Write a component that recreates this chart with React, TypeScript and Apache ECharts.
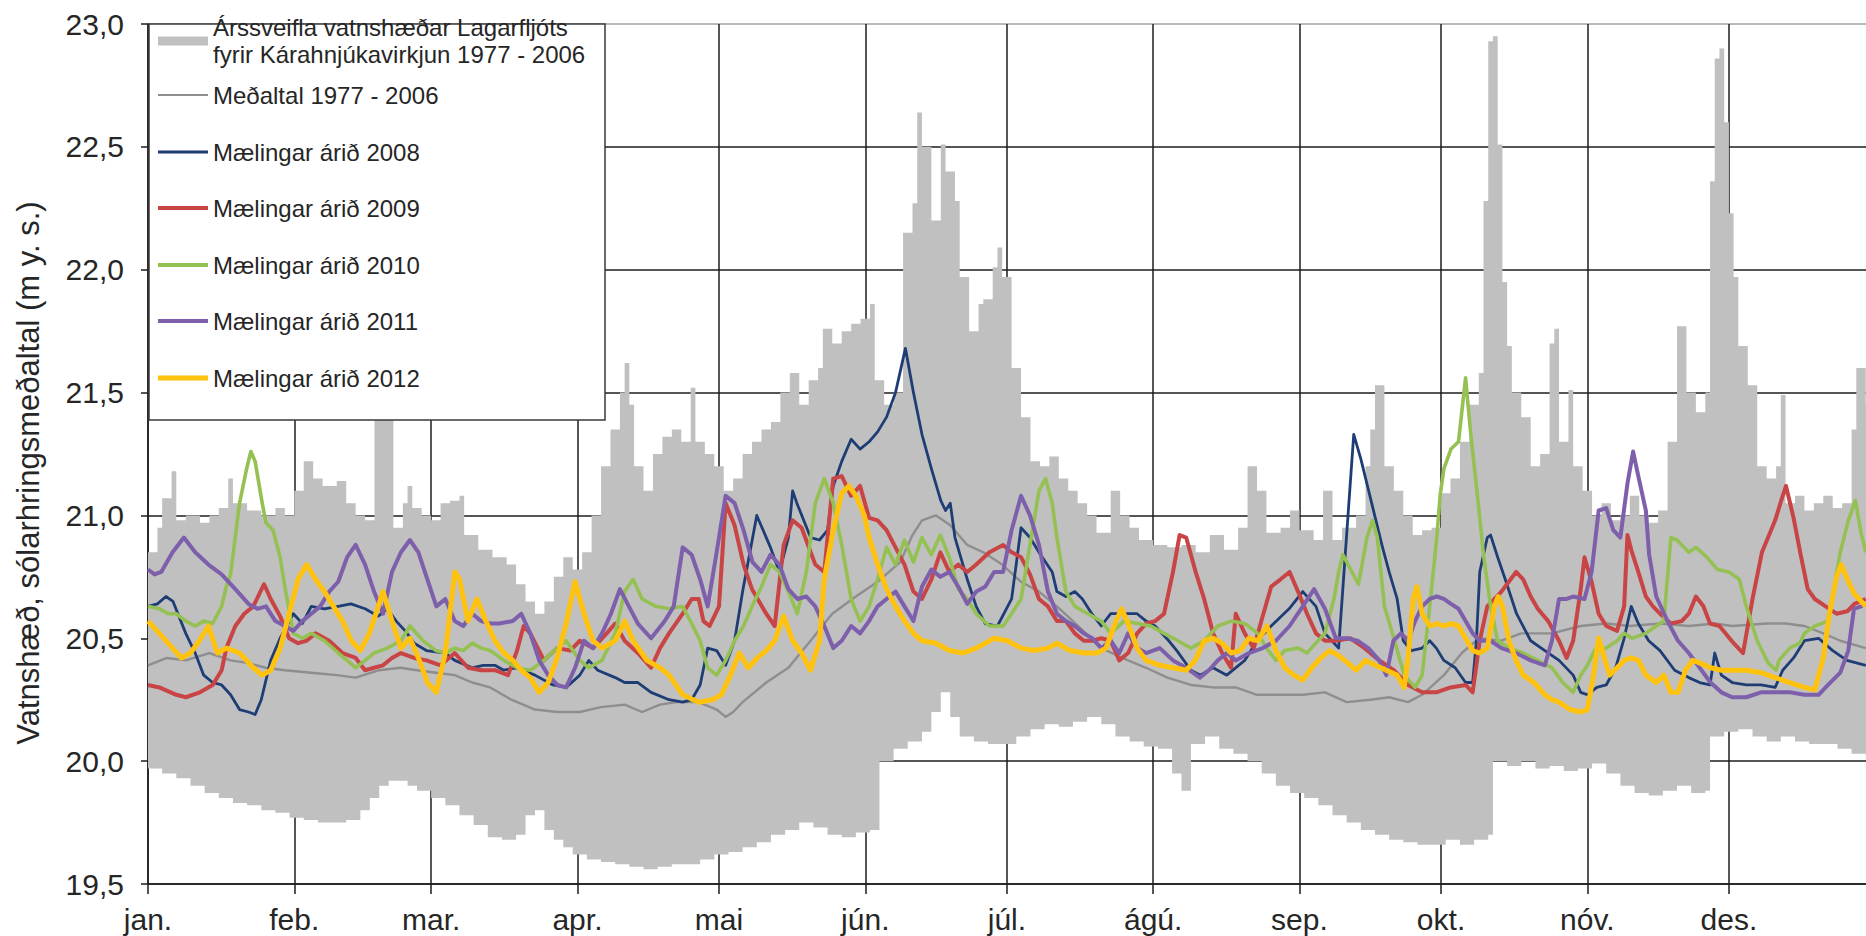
import React, { useEffect, useRef } from 'react';
import * as echarts from 'echarts';

// ---------- axis data ----------
const monthLabels = ['jan.', 'feb.', 'mar.', 'apr.', 'mai', 'jún.', 'júl.', 'ágú.', 'sep.', 'okt.', 'nóv.', 'des.'];
const monthStartDays = [0, 31, 60, 91, 121, 152, 182, 213, 244, 274, 305, 335];
const X_MAX = 364.05;
const Y_MIN = 19.5;
const Y_MAX = 23.0;
const Y_STEP = 0.5;

// ---------- names ----------
const bandName = 'Árssveifla vatnshæðar Lagarfljóts\nfyrir Kárahnjúkavirkjun 1977 - 2006';
const meanName = 'Meðaltal 1977 - 2006';
const name2008 = 'Mælingar árið 2008';
const name2009 = 'Mælingar árið 2009';
const name2010 = 'Mælingar árið 2010';
const name2011 = 'Mælingar árið 2011';
const name2012 = 'Mælingar árið 2012';

// ---------- band (daily max / min 1977-2006), [day, value] ----------
const bandUpper: number[][] = [
  [0,20.85],[2,20.95],[3,21.07],[5,21.18],[6,20.98],[8,21.0],[11,20.97],[13,21.0],[15,21.03],[17,21.15],[18,21.05],[21,21.02],[24,21.0],[27,21.03],[29,21.0],
  [31,21.1],[33,21.22],[35,21.15],[37,21.12],[40,21.14],[42,21.05],[44,21.0],[46,20.98],[48,21.45],[49,21.6],[51,21.5],[52,20.95],[54,21.05],[55,21.12],[56,21.03],[58,21.0],
  [60,20.98],[62,21.05],[64,21.06],[66,21.08],[67,20.92],[70,20.86],[73,20.83],[76,20.8],[78,20.72],[80,20.65],[82,20.6],[84,20.65],[86,20.75],[88,20.83],[90,20.78],
  [92,20.85],[94,21.0],[96,21.2],[98,21.35],[100,21.5],[101,21.62],[102,21.45],[103,21.2],[105,21.1],[107,21.25],[109,21.32],[111,21.35],[113,21.3],[115,21.52],[116,21.3],[118,21.25],[120,21.2],
  [122,21.1],[124,21.15],[126,21.25],[128,21.3],[130,21.35],[132,21.38],[134,21.5],[136,21.58],[138,21.45],[140,21.55],[142,21.6],[143,21.76],[145,21.7],[147,21.75],[149,21.78],[151,21.8],
  [153,21.86],[154,21.55],[156,21.45],[158,21.5],[160,22.15],[162,22.27],[163,22.64],[164,22.5],[166,22.2],[168,22.51],[169,22.4],[171,22.28],[172,21.97],[174,21.75],[176,21.86],[177,21.88],[179,22.01],[180,22.09],[181,21.97],
  [183,21.6],[185,21.4],[187,21.22],[189,21.2],[191,21.24],[193,21.15],[195,21.1],[197,21.05],[199,21.0],[201,20.93],[204,21.1],[206,21.0],[208,20.95],[210,20.9],
  [213,20.88],[216,20.87],[219,20.88],[222,20.85],[225,20.92],[228,20.86],[231,20.95],[233,21.2],[235,21.1],[237,20.93],[240,20.95],[242,21.02],
  [244,20.94],[247,20.9],[249,21.1],[251,20.9],[253,20.95],[256,21.0],[258,21.2],[259,21.35],[260,21.53],[262,21.2],[264,21.1],[266,21.0],[268,20.92],[270,20.94],[272,20.95],
  [274,21.09],[276,21.15],[278,21.3],[280,21.45],[282,21.58],[283,22.28],[284,22.93],[285,22.95],[286,22.51],[287,21.95],[288,21.69],[289,21.5],[291,21.4],[293,21.2],[295,21.25],[297,21.7],[298,21.76],[299,21.3],[301,21.51],[302,21.2],
  [304,21.1],[306,21.0],[308,21.05],[310,20.98],[312,21.0],[314,21.08],[316,21.0],[318,20.97],[320,21.02],[322,21.3],[324,21.77],[326,21.5],[328,21.42],[330,21.5],[331,22.36],[332,22.86],[333,22.9],
  [334,22.6],[335,22.23],[336,21.97],[337,21.69],[339,21.53],[341,21.2],[343,21.15],[345,21.2],[346,21.49],[347,21.05],[349,21.08],[351,21.02],[353,21.05],[355,21.08],[357,21.03],[359,21.05],[361,21.35],[362,21.6],[364,21.45]
];
const bandLower: number[][] = [
  [0,19.97],[3,19.95],[6,19.93],[9,19.9],[12,19.87],[15,19.85],[18,19.83],[21,19.82],[24,19.8],[27,19.79],[30,19.77],[33,19.76],[36,19.75],[39,19.75],[42,19.76],[45,19.8],[47,19.85],[49,19.9],[51,19.92],[53,19.92],[55,19.9],[57,19.88],
  [60,19.85],[63,19.82],[66,19.78],[69,19.74],[72,19.69],[75,19.68],[78,19.7],[80,19.78],[82,19.8],[84,19.72],[86,19.68],[88,19.65],[90,19.62],[93,19.6],[96,19.59],[99,19.58],[102,19.57],[105,19.56],[108,19.57],[111,19.58],[114,19.58],[117,19.6],
  [120,19.62],[123,19.63],[126,19.65],[129,19.67],[132,19.7],[135,19.72],[138,19.75],[141,19.73],[144,19.7],[147,19.69],[150,19.71],[153,19.72],[155,20.0],[158,20.05],[161,20.08],[164,20.12],[166,20.2],[168,20.28],[170,20.18],[172,20.1],[175,20.08],[178,20.07],
  [181,20.07],[184,20.1],[187,20.13],[190,20.15],[193,20.14],[196,20.16],[199,20.18],[202,20.15],[205,20.1],[208,20.08],[211,20.06],[214,20.05],[217,19.95],[219,19.88],[221,20.07],[224,20.1],[227,20.05],[230,20.03],[233,20.0],[236,19.95],[239,19.9],[242,19.87],
  [245,19.85],[248,19.82],[251,19.78],[254,19.75],[257,19.72],[260,19.7],[263,19.68],[266,19.67],[269,19.66],[272,19.66],[275,19.68],[278,19.66],[281,19.68],[284,19.7],[285,20.0],[288,19.98],[291,20.0],[294,19.97],[297,19.98],[300,19.96],[303,19.97],
  [306,19.99],[309,19.95],[312,19.9],[315,19.87],[318,19.86],[321,19.88],[324,19.9],[327,19.87],[330,19.88],[331,20.1],[334,20.12],[337,20.13],[340,20.1],[343,20.08],[346,20.1],[349,20.08],[352,20.07],[355,20.07],[358,20.05],[361,20.03],[364,20.02]
];

// ---------- lines, [day, value] ----------
const meanValues: number[][] = [
  [0,20.39],[4,20.42],[8,20.41],[13,20.44],[17.5,20.41],[21,20.4],[25,20.38],[29,20.37],[34.6,20.36],[40,20.35],[44,20.34],[49,20.37],[53.5,20.38],[57,20.37],[61,20.36],[65,20.35],[68.7,20.32],[72.5,20.3],[77,20.25],[82,20.21],[86.7,20.2],[91.5,20.2],
  [96,20.22],[101,20.23],[104.7,20.2],[108.5,20.23],[112,20.24],[116.7,20.24],[120.5,20.21],[122.4,20.18],[124,20.2],[126,20.24],[131,20.32],[135.7,20.38],[140.4,20.49],[145,20.6],[150,20.67],[154.6,20.73],[159.4,20.81],[162,20.92],[164,20.98],[167,21.0],[170,20.96],
  [173.6,20.88],[177,20.85],[181,20.8],[185,20.73],[188.8,20.69],[192.6,20.63],[196,20.57],[202,20.46],[207.7,20.41],[211.5,20.38],[216,20.34],[221,20.31],[225.7,20.3],[230.5,20.3],[235,20.27],[240,20.27],[244.7,20.27],[249.4,20.28],[254,20.24],[259,20.25],
  [263,20.26],[267,20.24],[270,20.27],[274.6,20.35],[278.4,20.44],[282,20.5],[286.8,20.49],[291,20.52],[297.5,20.52],[303.6,20.55],[309,20.56],[314,20.55],[320.4,20.56],[326.5,20.55],[332,20.56],[335.7,20.55],[343,20.56],[347,20.56],[351,20.55],[355,20.52],[358.6,20.49],[364,20.46]
];
const values2008: number[][] = [
  [0,20.63],[2,20.64],[3.8,20.67],[5.3,20.65],[8,20.52],[10,20.44],[11.8,20.35],[13.7,20.32],[15.6,20.31],[17.5,20.27],[19.4,20.21],[21.3,20.2],[22.7,20.19],[24,20.25],[26,20.41],[28,20.5],[30.8,20.6],[32.7,20.56],[34.6,20.63],[37.4,20.62],[40.3,20.63],[43,20.64],
  [46,20.62],[48.8,20.59],[50.7,20.62],[52.6,20.57],[54.5,20.53],[56.4,20.48],[59,20.45],[63,20.44],[65,20.41],[68.7,20.38],[71,20.39],[73.5,20.39],[75.4,20.37],[78,20.38],[82,20.35],[85.8,20.31],[88.6,20.3],[91.5,20.35],[93.4,20.41],[95.3,20.37],[99,20.34],
  [101,20.32],[103.8,20.32],[106.6,20.28],[110.4,20.25],[113.3,20.24],[115.2,20.25],[117,20.31],[118.6,20.46],[120.5,20.45],[122.4,20.39],[124.3,20.49],[126,20.69],[129,21.0],[131.9,20.87],[133.8,20.77],[135.7,20.91],[136.6,21.1],[137.5,21.05],[140.4,20.91],
  [142.3,20.9],[144,20.94],[145.2,21.12],[147,21.22],[149,21.31],[150.9,21.27],[152.8,21.3],[154.6,21.34],[156.5,21.4],[158.4,21.5],[160.5,21.68],[162.2,21.5],[164,21.33],[166,21.19],[168,21.06],[169,21.02],[170,21.05],[171,20.91],[173.6,20.74],[175.5,20.63],
  [177.4,20.56],[180,20.55],[183,20.66],[185,20.95],[186.9,20.91],[188.8,20.85],[191.6,20.77],[192.6,20.69],[194.5,20.67],[196.4,20.69],[198,20.66],[200,20.6],[202,20.55],[204,20.6],[206.8,20.6],[209.6,20.6],[211.5,20.57],[213.4,20.55],[216.3,20.49],[218,20.45],
  [221,20.37],[223,20.35],[225.7,20.38],[228.6,20.35],[232.4,20.41],[235,20.49],[238,20.55],[241.8,20.62],[244.7,20.69],[247.5,20.63],[249.4,20.52],[252.3,20.46],[255.5,21.33],[257,21.23],[259.3,21.05],[261.6,20.87],[263,20.77],[264.7,20.66],[266,20.49],
  [267.7,20.45],[270,20.46],[271.6,20.49],[273,20.46],[274.6,20.41],[277,20.38],[279.2,20.32],[280.7,20.32],[281.5,20.49],[282.2,20.77],[283.8,20.91],[284.5,20.92],[286,20.83],[287.6,20.74],[290,20.6],[293,20.49],[296,20.45],[299,20.41],[302,20.35],[303.6,20.28],
  [305,20.27],[307,20.3],[309,20.31],[311,20.38],[312.8,20.5],[314.3,20.63],[315.8,20.56],[318,20.49],[320.4,20.45],[323.5,20.37],[326.5,20.34],[328.8,20.32],[331,20.31],[332,20.44],[333.4,20.35],[335.7,20.32],[338.7,20.31],[341.8,20.31],[344.8,20.3],
  [346.4,20.37],[348.7,20.42],[351,20.49],[354,20.5],[357,20.45],[360,20.41],[364,20.39]
];
const values2009: number[][] = [
  [0,20.31],[2.4,20.3],[6,20.27],[8,20.26],[11,20.28],[13.7,20.31],[15.6,20.37],[16.6,20.46],[18.5,20.55],[20.4,20.6],[22.3,20.63],[24.6,20.72],[26,20.66],[28,20.59],[29.9,20.5],[31.8,20.48],[33.6,20.49],[35.5,20.52],[38.4,20.49],[41.2,20.44],[44,20.42],
  [46,20.37],[47.9,20.38],[49.8,20.39],[51.7,20.42],[53.6,20.44],[56.4,20.42],[59,20.41],[62,20.39],[65,20.44],[67.8,20.38],[70.6,20.37],[73.5,20.37],[76.3,20.35],[78.2,20.45],[79.6,20.55],[81,20.52],[83.9,20.41],[86.7,20.46],[89.5,20.45],[91.5,20.49],
  [94.3,20.46],[97.2,20.52],[99,20.56],[101,20.49],[103.8,20.44],[106.6,20.38],[108.5,20.46],[110.4,20.52],[113.3,20.6],[115.2,20.66],[116.7,20.66],[117.7,20.57],[119,20.55],[121,20.63],[122.4,21.05],[124.3,20.96],[126.2,20.8],[128,20.7],[131,20.6],[132.8,20.55],
  [134.7,20.88],[136.6,20.98],[138.5,20.95],[141.4,20.8],[143.3,20.77],[145.2,21.15],[147,21.16],[149,21.08],[150.9,21.12],[152.8,20.99],[154.6,20.98],[156.5,20.94],[158.4,20.87],[160.3,20.8],[162.2,20.69],[164,20.66],[166,20.74],[167.9,20.85],[169.8,20.77],
  [171.7,20.8],[173.6,20.77],[175.5,20.8],[178.3,20.85],[181.2,20.88],[183,20.85],[185,20.83],[186.9,20.76],[188.8,20.66],[190.7,20.63],[192.6,20.57],[194.5,20.57],[196.4,20.52],[198.3,20.49],[200.1,20.49],[202,20.5],[204,20.49],[205.8,20.41],[207.7,20.44],
  [209.6,20.52],[211.5,20.56],[213.4,20.57],[215.3,20.6],[217.2,20.77],[218.6,20.92],[220,20.91],[222,20.77],[223.8,20.66],[225.7,20.52],[227.6,20.44],[229.5,20.38],[230.5,20.6],[232.4,20.52],[234.3,20.46],[236.2,20.59],[238,20.71],[240,20.74],[241.9,20.77],
  [243.7,20.69],[245.6,20.6],[247.5,20.52],[249.4,20.49],[251.7,20.49],[254.8,20.5],[257.8,20.46],[260.9,20.41],[264,20.37],[267,20.31],[270,20.28],[273,20.28],[276,20.3],[279.2,20.31],[280.7,20.28],[282.2,20.49],[283.8,20.63],[286.8,20.69],[289.9,20.77],
  [291.4,20.74],[293,20.67],[294.5,20.62],[296.7,20.57],[299,20.49],[300.6,20.42],[302,20.49],[303.6,20.7],[304.4,20.83],[305.9,20.73],[307.4,20.6],[309,20.55],[311.3,20.53],[312.8,20.63],[313.5,20.92],[314.3,20.86],[315.8,20.77],[317.4,20.67],[318.9,20.63],
  [320.4,20.6],[322.7,20.56],[325,20.57],[326.5,20.6],[328,20.67],[329.6,20.63],[331,20.56],[333,20.55],[336,20.48],[338,20.44],[340,20.66],[342,20.85],[343.3,20.91],[344.8,20.98],[346.4,21.08],[347.1,21.12],[348.7,20.99],[350.2,20.84],[351.7,20.7],
  [353.2,20.66],[355.5,20.63],[357.8,20.6],[360.1,20.61],[361.6,20.64],[364,20.66]
];
const values2010: number[][] = [
  [0,20.63],[2.4,20.62],[4.3,20.6],[6,20.6],[8,20.57],[10,20.55],[11.8,20.57],[13.7,20.56],[15.6,20.63],[16.6,20.71],[17.5,20.76],[19.4,21.05],[20.9,21.19],[21.8,21.26],[22.7,21.22],[24.2,21.05],[25,20.97],[26.5,20.94],[28,20.83],[29,20.71],[30.8,20.52],
  [32.7,20.5],[34.6,20.52],[37.4,20.49],[40.3,20.44],[42.2,20.41],[44,20.38],[46,20.41],[47.9,20.44],[50.7,20.46],[53.6,20.49],[55.5,20.55],[58.3,20.49],[61,20.45],[63,20.44],[65,20.46],[66.8,20.45],[68.7,20.48],[70.6,20.46],[72.5,20.45],[75.4,20.41],
  [78.2,20.38],[81,20.37],[83.9,20.41],[86.7,20.46],[88.6,20.49],[91.5,20.41],[93.4,20.38],[96.2,20.41],[99,20.52],[101,20.69],[102.8,20.74],[104.7,20.66],[107.6,20.63],[110.4,20.62],[113.3,20.63],[115.2,20.56],[117,20.49],[118.6,20.38],[120.5,20.35],
  [122.4,20.41],[124.3,20.49],[126.2,20.55],[128,20.63],[130,20.71],[131.9,20.8],[133.8,20.77],[135.7,20.69],[137.6,20.6],[139.5,20.77],[141.4,21.05],[143.3,21.15],[145.2,21.05],[147,20.88],[149,20.66],[150.9,20.57],[152.8,20.63],[154.6,20.74],[156.5,20.87],
  [158.4,20.8],[160.3,20.9],[162.2,20.81],[164,20.91],[166,20.84],[167.9,20.92],[169.8,20.83],[171.7,20.7],[173.6,20.66],[175.5,20.6],[178.3,20.55],[181.2,20.55],[183,20.6],[185,20.66],[186.9,20.88],[188.8,21.1],[190.2,21.15],[191.6,21.05],[192.6,20.91],
  [194.5,20.69],[196.4,20.63],[199.2,20.6],[202,20.57],[204,20.52],[206.8,20.57],[209.6,20.56],[212.5,20.55],[215.3,20.52],[218.2,20.49],[221,20.46],[223.8,20.49],[226.7,20.55],[229.5,20.57],[232.4,20.56],[235.2,20.52],[237,20.46],[239,20.41],[240.9,20.45],
  [243.7,20.46],[245.6,20.44],[247,20.47],[249.4,20.52],[251.3,20.66],[252.3,20.77],[253.2,20.84],[255.1,20.77],[256.5,20.72],[258.3,20.91],[259.5,20.98],[260.5,20.91],[262,20.63],[264,20.5],[266.2,20.35],[268.5,20.3],[270,20.35],[271.6,20.63],[273.1,20.91],
  [273.8,21.08],[274.6,21.19],[276.1,21.27],[277.7,21.3],[279.2,21.56],[280.3,21.33],[281.5,21.12],[283,20.84],[284.5,20.63],[286,20.49],[288.4,20.46],[291.4,20.44],[294.5,20.41],[297.5,20.38],[299.8,20.32],[302,20.28],[303.6,20.35],[305,20.39],[306.5,20.45],
  [309,20.46],[311.3,20.49],[312.8,20.52],[314.5,20.5],[317.4,20.52],[319.6,20.55],[321.2,20.57],[322.7,20.91],[324,20.9],[325,20.88],[326.5,20.85],[328,20.87],[330.3,20.83],[332.6,20.78],[335,20.77],[337.2,20.74],[338.7,20.63],[340,20.55],[341,20.49],
  [343.3,20.4],[345,20.37],[345.6,20.41],[347.9,20.46],[350,20.48],[351,20.52],[353.2,20.55],[356,20.57],[358.6,20.85],[360.3,20.98],[361.8,21.06],[363,20.93],[364,20.85]
];
const values2011: number[][] = [
  [0,20.78],[1.4,20.76],[2.8,20.77],[5.2,20.85],[7.6,20.91],[10,20.85],[12.8,20.8],[15.6,20.76],[18.5,20.7],[21.3,20.64],[23.2,20.62],[25,20.63],[27,20.57],[29,20.55],[30.8,20.53],[32.7,20.57],[34.6,20.6],[36.5,20.63],[38.4,20.69],[40.3,20.73],[42.2,20.83],
  [44,20.88],[46,20.8],[47.9,20.69],[49.8,20.6],[51.7,20.77],[53.6,20.85],[55.5,20.9],[57.3,20.85],[59.2,20.74],[61.1,20.63],[63,20.66],[65,20.57],[66.8,20.55],[68.7,20.6],[70.6,20.57],[72.5,20.56],[74.4,20.56],[77.3,20.57],[79.1,20.6],[81,20.52],
  [82.9,20.41],[84.8,20.35],[86.7,20.31],[88.6,20.3],[90.5,20.38],[92.4,20.49],[94.3,20.46],[96.2,20.52],[98.1,20.6],[100,20.7],[101.9,20.63],[103.8,20.56],[106.6,20.5],[109.5,20.57],[111.4,20.63],[113.3,20.87],[115.2,20.84],[117,20.74],[118.6,20.63],
  [120.5,20.85],[122.4,21.08],[124.3,21.05],[126.2,20.94],[128.1,20.81],[130,20.77],[131.9,20.84],[133.8,20.8],[135.7,20.7],[137.6,20.66],[139.5,20.67],[141.4,20.63],[143.3,20.55],[145.2,20.46],[147,20.49],[149,20.55],[150.9,20.52],[152.8,20.57],
  [154.6,20.63],[156.5,20.66],[158.4,20.69],[160.3,20.63],[162.2,20.57],[164,20.71],[166,20.78],[167.9,20.75],[169.8,20.77],[171.7,20.71],[173.6,20.64],[175.5,20.69],[177.4,20.71],[179.3,20.77],[181.2,20.77],[183,20.94],[185,21.08],[186.9,21.0],
  [188.8,20.88],[190.7,20.69],[192.6,20.6],[194.5,20.57],[196.4,20.55],[198.3,20.52],[200.1,20.5],[202,20.46],[204,20.49],[205.8,20.44],[207.7,20.52],[209.6,20.46],[211.5,20.44],[214.4,20.46],[217.2,20.41],[220,20.38],[222.9,20.34],[224.8,20.37],
  [226.7,20.41],[228.6,20.44],[230.5,20.41],[233.3,20.44],[236.2,20.46],[239,20.49],[241.9,20.55],[244.7,20.63],[247.1,20.7],[249.4,20.62],[251.7,20.5],[254,20.5],[256.3,20.49],[258.6,20.46],[260.9,20.41],[262.4,20.35],[263.9,20.49],[265.5,20.52],
  [267,20.49],[268.5,20.57],[270,20.63],[271.6,20.66],[273.1,20.67],[274.6,20.66],[276.1,20.64],[277.7,20.62],[279.2,20.57],[280.7,20.52],[282.2,20.49],[284.5,20.49],[286.8,20.46],[289.9,20.44],[293,20.41],[296,20.39],[297.5,20.49],[299,20.66],
  [300.6,20.66],[302,20.67],[304.4,20.66],[305.9,20.77],[307.4,21.02],[309,21.03],[310.5,20.94],[312,20.91],[313.5,21.13],[314.7,21.26],[315.8,21.16],[317.4,21.02],[318.1,20.84],[319.6,20.67],[322,20.57],[324.2,20.49],[326.5,20.44],[328.8,20.38],
  [331.1,20.32],[333.4,20.28],[335.7,20.26],[338.7,20.26],[341.8,20.28],[344.8,20.28],[347.9,20.28],[351,20.27],[354,20.27],[356,20.31],[358.6,20.36],[360.3,20.45],[361.5,20.62],[363,20.63],[364,20.64]
];
const values2012: number[][] = [
  [0,20.57],[2.4,20.52],[5.2,20.46],[7.1,20.42],[9,20.44],[10.9,20.49],[12.8,20.55],[14.7,20.44],[16.6,20.46],[19.4,20.44],[22.3,20.38],[24.2,20.35],[26,20.37],[28,20.46],[29.9,20.6],[31.8,20.74],[33.6,20.8],[35.5,20.74],[37.4,20.69],[39.3,20.63],
  [41.2,20.57],[43.1,20.49],[45,20.45],[46.9,20.52],[48.8,20.63],[49.8,20.69],[51.7,20.57],[53.6,20.46],[55.5,20.5],[57.3,20.42],[59.2,20.32],[61.1,20.28],[63,20.44],[65,20.77],[66,20.74],[67.8,20.57],[69.7,20.66],[71.6,20.57],[73.5,20.49],
  [75.4,20.44],[77.3,20.41],[79.1,20.37],[81,20.34],[82.9,20.28],[84.8,20.32],[86.7,20.42],[88.6,20.56],[90.5,20.73],[92.4,20.6],[94.3,20.49],[96.2,20.46],[99,20.49],[101,20.57],[102.8,20.49],[105.7,20.41],[108.5,20.38],[110.4,20.35],[113.3,20.27],
  [116.7,20.24],[119.6,20.25],[121.5,20.27],[123.4,20.35],[125.3,20.44],[127.2,20.38],[129.1,20.42],[131,20.45],[132.8,20.49],[134.7,20.59],[136.6,20.49],[138.5,20.44],[140.4,20.37],[142.3,20.49],[143.3,20.74],[145.2,20.94],[147,21.09],[148.5,21.12],
  [150,21.08],[151.8,21.0],[152.8,20.91],[154.6,20.8],[156.5,20.7],[158.4,20.63],[160.3,20.57],[162.2,20.52],[164,20.49],[167,20.48],[169.8,20.45],[172.7,20.44],[175.5,20.46],[179.3,20.5],[182.1,20.49],[185,20.46],[187.8,20.45],[190.7,20.46],
  [192.6,20.48],[195.4,20.45],[198.3,20.44],[201.1,20.44],[203,20.46],[204.9,20.56],[206.3,20.62],[207.7,20.56],[209.6,20.46],[211.5,20.41],[214.4,20.39],[217.2,20.38],[220,20.37],[221.9,20.41],[223.8,20.49],[225.7,20.5],[227.6,20.48],[229.5,20.44],
  [231.4,20.45],[233.3,20.5],[235.2,20.49],[237.1,20.55],[239,20.45],[240.9,20.38],[242.8,20.35],[244.7,20.33],[246.6,20.38],[248.5,20.42],[250.4,20.45],[252.3,20.43],[254.2,20.4],[256,20.37],[258,20.41],[260.1,20.39],[262.4,20.37],[264.7,20.35],
  [266.2,20.3],[267,20.42],[268.1,20.66],[268.9,20.71],[270,20.6],[271.6,20.55],[273.1,20.56],[274.6,20.55],[276.1,20.56],[277.7,20.55],[279.2,20.5],[280.7,20.45],[282.2,20.44],[283.8,20.46],[285.3,20.63],[286.1,20.67],[287,20.63],[288.4,20.49],
  [289.9,20.41],[291.4,20.35],[293.7,20.32],[296,20.27],[297.5,20.25],[299,20.24],[301.3,20.21],[303.6,20.2],[305,20.21],[306.3,20.35],[307.4,20.5],[308.6,20.42],[309.7,20.35],[311.3,20.38],[312.8,20.41],[314.3,20.42],[315.8,20.41],[317.4,20.35],
  [319.6,20.32],[321.2,20.35],[322.7,20.28],[324.2,20.28],[325.8,20.37],[327.3,20.41],[328.8,20.4],[331.1,20.38],[333.4,20.37],[335.7,20.37],[338.7,20.37],[341.8,20.36],[344.8,20.34],[347.9,20.32],[351,20.3],[353.2,20.29],[355,20.42],[356.3,20.6],
  [357.8,20.75],[358.8,20.8],[360.1,20.74],[361.6,20.68],[364,20.63]
];

// ---------- styles ----------
const FONT = '"Liberation Sans", Arial, Helvetica, sans-serif';
const TEXT = '#262626';
const GRID_LINE = '#1c1c1c';
const BAND_COLOR = '#c0c0c0';

const lineDefs = [
  { name: meanName, data: meanValues, color: '#8e8e8e', width: 2.4 },
  { name: name2008, data: values2008, color: '#1f3d75', width: 2.8 },
  { name: name2009, data: values2009, color: '#c94444', width: 4 },
  { name: name2010, data: values2010, color: '#94c152', width: 3.6 },
  { name: name2011, data: values2011, color: '#7d5fab', width: 4 },
  { name: name2012, data: values2012, color: '#ffc20e', width: 5 },
];

// legend rows: centre y of each legend row
const legendRows = [
  { name: bandName, cy: 41, band: true },
  { name: meanName, cy: 95 },
  { name: name2008, cy: 152 },
  { name: name2009, cy: 208 },
  { name: name2010, cy: 265 },
  { name: name2011, cy: 321 },
  { name: name2012, cy: 378 },
];

export default function App() {
  const ref = useRef<HTMLDivElement>(null);

  useEffect(() => {
    if (!ref.current) return;
    const chart = echarts.init(ref.current, undefined, { renderer: 'svg' });

    const ySplitColors: string[] = [];
    for (let v = Y_MIN; v <= Y_MAX + 1e-9; v += Y_STEP) ySplitColors.push(v >= Y_MAX - 1e-9 ? '#a0a0a0' : GRID_LINE);

    const legends = legendRows.map((row) => {
      if (row.band) {
        return {
          data: [{ name: row.name, icon: 'rect', itemStyle: { color: BAND_COLOR } }],
          left: 158, top: row.cy - 40.5, orient: 'vertical', padding: 0,
          itemWidth: 50, itemHeight: 9, selectedMode: false, z: 12,
          textStyle: { fontFamily: FONT, fontSize: 24, color: TEXT, lineHeight: 27, padding: [27, 0, 0, 0] },
        };
      }
      const def = lineDefs.find((l) => l.name === row.name)!;
      const h = Math.max(2, Math.round(def.width));
      return {
        data: [{ name: row.name, icon: 'rect', itemStyle: { color: def.color } }],
        left: 158, top: row.cy - 13.5, orient: 'vertical', padding: 0,
        itemWidth: 50, itemHeight: h, selectedMode: false, z: 12,
        textStyle: { fontFamily: FONT, fontSize: 24, color: TEXT, lineHeight: 27 },
      };
    });

    const option: any = {
      animation: false,
      backgroundColor: '#ffffff',
      grid: { left: 148, right: 0, top: 24, bottom: 52, containLabel: false, outerBoundsMode: 'none' },
      xAxis: {
        type: 'value', min: 0, max: X_MAX,
        axisLine: { show: true, onZero: false, lineStyle: { color: GRID_LINE, width: 1.5 } },
        axisTick: { show: true, customValues: monthStartDays, length: 10, lineStyle: { color: GRID_LINE, width: 1.5 } },
        axisLabel: {
          customValues: monthStartDays,
          formatter: (v: number) => monthLabels[monthStartDays.indexOf(Math.round(v))] ?? '',
          fontFamily: FONT, fontSize: 30, color: TEXT, margin: 20,
        },
        splitLine: { show: true, lineStyle: { color: GRID_LINE, width: 1.5 } },
      },
      yAxis: {
        type: 'value', min: Y_MIN, max: Y_MAX, interval: Y_STEP,
        name: 'Vatnshæð, sólarhringsmeðaltal (m y. s.)',
        nameLocation: 'middle', nameRotate: 90, nameGap: 104,
        nameTextStyle: { fontFamily: FONT, fontSize: 31, color: TEXT, padding: [0, 38, 0, 0] },
        axisLine: { show: true, lineStyle: { color: GRID_LINE, width: 1.5 } },
        axisTick: { show: true, length: 7, lineStyle: { color: GRID_LINE, width: 1.5 } },
        axisLabel: {
          formatter: (v: number) => v.toFixed(1).replace('.', ','),
          fontFamily: FONT, fontSize: 30, color: TEXT, margin: 24,
        },
        splitLine: { show: true, lineStyle: { color: ySplitColors, width: 1.5 } },
      },
      legend: legends,
      graphic: [
        {
          type: 'rect', z: 10, silent: true,
          shape: { x: 149, y: 24, width: 456, height: 396 },
          style: { fill: '#ffffff', stroke: '#3a3a3a', lineWidth: 1.5 },
        },
      ],
      series: [
        {
          type: 'custom', name: bandName, coordinateSystem: 'cartesian2d',
          data: [[0, Y_MIN]], encode: { x: 0, y: 1 }, z: 1, silent: true,
          itemStyle: { color: BAND_COLOR },
          renderItem: (_params: any, api: any) => {
            const pts: number[][] = [];
            for (let i = 0; i < bandUpper.length; i++) {
              const d0 = bandUpper[i][0];
              const d1 = i + 1 < bandUpper.length ? bandUpper[i + 1][0] : X_MAX;
              pts.push(api.coord([d0, bandUpper[i][1]]), api.coord([d1, bandUpper[i][1]]));
            }
            for (let i = bandLower.length - 1; i >= 0; i--) {
              const d0 = bandLower[i][0];
              const d1 = i + 1 < bandLower.length ? bandLower[i + 1][0] : X_MAX;
              pts.push(api.coord([d1, bandLower[i][1]]), api.coord([d0, bandLower[i][1]]));
            }
            return { type: 'polygon', shape: { points: pts }, style: { fill: BAND_COLOR } };
          },
        },
        ...lineDefs.map((l, i) => ({
          type: 'line', name: l.name, data: l.data,
          showSymbol: false, symbol: 'none', silent: true, z: 3 + i,
          lineStyle: { color: l.color, width: l.width, join: 'round' },
          itemStyle: { color: l.color },
          emphasis: { disabled: true },
        })),
      ],
    };

    chart.setOption(option);
    return () => chart.dispose();
  }, []);

  return (
    <div
      ref={ref}
      style={{ position: 'absolute', left: 0, top: 0, width: 1866, height: 936, background: '#fff' }}
    />
  );
}
